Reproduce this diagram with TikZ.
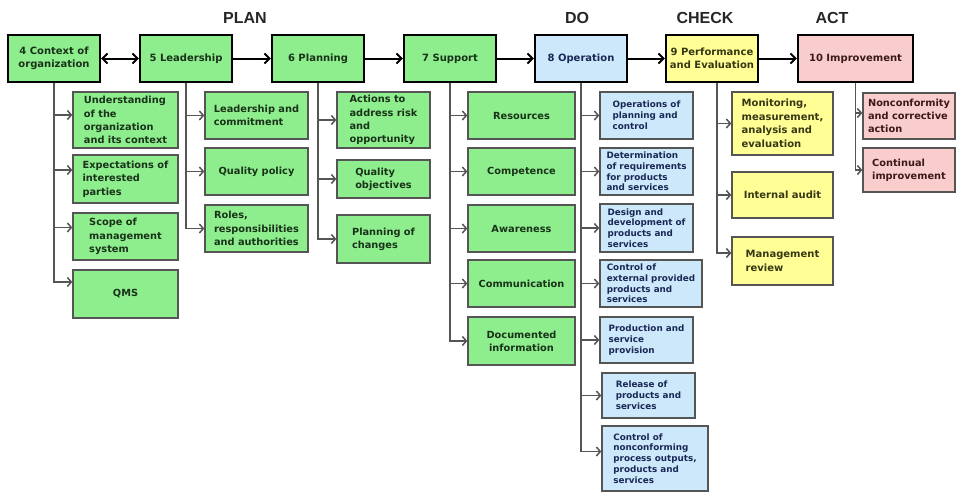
\documentclass[tikz,border=0pt]{standalone}
\usepackage{fontspec}
\setmainfont{DejaVu Sans}
\newfontfamily\headfont{Liberation Sans}
\usetikzlibrary{arrows.meta}
\definecolor{gfill}{RGB}{142,238,142}
\definecolor{bfill}{RGB}{205,232,250}
\definecolor{yfill}{RGB}{255,255,150}
\definecolor{pfill}{RGB}{250,205,205}
\definecolor{subline}{RGB}{85,85,85}
\definecolor{gtext}{RGB}{25,50,25}
\definecolor{btext}{RGB}{25,40,85}
\definecolor{ytext}{RGB}{55,55,20}
\definecolor{ptext}{RGB}{60,25,25}
\begin{document}
\begin{tikzpicture}[x=1pt,y=-1pt,
  topbox/.style={draw=black, line width=2.2pt, minimum height=47pt, minimum width=92pt,
    align=center, inner sep=2pt, font=\bfseries\fontsize{10}{12.5}\selectfont},
  subbox/.style={draw=subline, line width=1.3pt, align=left, inner sep=2pt},
  gsub/.style={subbox, fill=gfill, text=gtext, font=\bfseries\fontsize{9.8}{13.3}\selectfont},
  bsub/.style={subbox, fill=bfill, text=btext, font=\bfseries\fontsize{8.8}{10.8}\selectfont},
  ysub/.style={subbox, fill=yfill, text=ytext, font=\bfseries\fontsize{10}{13.5}\selectfont},
  psub/.style={subbox, fill=pfill, text=ptext, font=\bfseries\fontsize{9.8}{13.3}\selectfont},
  toparr/.style={line width=2pt, black, arrows={-Straight Barb[length=5pt,width=10pt]}},
  br/.style={line width=1.5pt, subline, arrows={-Straight Barb[length=4pt,width=9pt]}},
  phase/.style={font=\headfont\bfseries\fontsize{16}{18}\selectfont, text=black!85}
]
\useasboundingbox (0,0) rectangle (956,493);
\fill[white] (0,0) rectangle (956,493);

% phase labels
\node[phase] (lplan) at (245,18) {PLAN};
\node[phase] (ldo) at (577,18) {DO};
\node[phase] (lcheck) at (705,18) {CHECK};
\node[phase] (lact) at (832,18) {ACT};

% top row
\node[topbox, fill=gfill, text=gtext] (t4) at (54,58.5) {4 Context of\\organization};
\node[topbox, fill=gfill, text=gtext] (t5) at (186,58.5) {5 Leadership};
\node[topbox, fill=gfill, text=gtext] (t6) at (318,58.5) {6 Planning};
\node[topbox, fill=gfill, text=gtext] (t7) at (450,58.5) {7 Support};
\node[topbox, fill=bfill, text=btext] (t8) at (581,58.5) {8 Operation};
\node[topbox, fill=yfill, text=ytext] (t9) at (712,58.5) {9 Performance\\and Evaluation};
\node[topbox, fill=pfill, text=ptext, minimum width=115pt] (t10) at (855.5,58.5) {10 Improvement};

\draw[toparr, arrows={Straight Barb[length=5pt,width=10pt]-Straight Barb[length=5pt,width=10pt]}] (t4) -- (t5);
\draw[toparr] (t5) -- (t6);
\draw[toparr] (t6) -- (t7);
\draw[toparr] (t7) -- (t8);
\draw[toparr] (t8) -- (t9);
\draw[toparr] (t9) -- (t10);

% column 1
\node[gsub, minimum width=105pt, minimum height=56pt] (s1a) at (125.5,120) {Understanding\\of the\\organization\\and its context};
\node[gsub, minimum width=105pt, minimum height=48pt] (s1b) at (125.5,179) {Expectations of\\interested\\parties};
\node[gsub, minimum width=105pt, minimum height=47pt] (s1c) at (125.5,236.5) {Scope of\\management\\system};
\node[gsub, minimum width=105pt, minimum height=48pt] (s1d) at (125.5,294) {QMS};
\draw[br] (t4.south) |- ([yshift=5pt]s1a.west);
\draw[br] (t4.south) |- ([yshift=9pt]s1b.west);
\draw[br] (t4.south) |- ([yshift=9pt]s1c.west);
\draw[br] (t4.south) |- ([yshift=12pt]s1d.west);

% column 2
\node[gsub, minimum width=103pt, minimum height=47pt] (s2a) at (256.5,115.5) {Leadership and\\commitment};
\node[gsub, minimum width=103pt, minimum height=47pt] (s2b) at (256.5,171.5) {Quality policy};
\node[gsub, minimum width=103pt, minimum height=47pt] (s2c) at (256.5,228.5) {Roles,\\responsibilities\\and authorities};
\draw[br] (t5.south) |- (s2a.west);
\draw[br] (t5.south) |- (s2b.west);
\draw[br] (t5.south) |- (s2c.west);

% column 3
\node[gsub, minimum width=93pt, minimum height=56pt] (s3a) at (383.5,120) {Actions to\\address risk\\and\\opportunity};
\node[gsub, minimum width=93pt, minimum height=38pt] (s3b) at (383.5,179) {Quality\\objectives};
\node[gsub, minimum width=93pt, minimum height=48pt] (s3c) at (383.5,239) {Planning of\\changes};
\draw[br] (t6.south) |- (s3a.west);
\draw[br] (t6.south) |- (s3b.west);
\draw[br] (t6.south) |- (s3c.west);

% column 4
\node[gsub, align=center, minimum width=107pt, minimum height=47pt] (s4a) at (521.5,115.5) {Resources};
\node[gsub, align=center, minimum width=107pt, minimum height=47pt] (s4b) at (521.5,171.5) {Competence};
\node[gsub, align=center, minimum width=107pt, minimum height=47pt] (s4c) at (521.5,228.5) {Awareness};
\node[gsub, align=center, minimum width=107pt, minimum height=47pt] (s4d) at (521.5,283.5) {Communication};
\node[gsub, align=center, minimum width=107pt, minimum height=48pt] (s4e) at (521.5,341) {Documented\\information};
\draw[br] (t7.south) |- (s4a.west);
\draw[br] (t7.south) |- (s4b.west);
\draw[br] (t7.south) |- (s4c.west);
\draw[br] (t7.south) |- (s4d.west);
\draw[br] (t7.south) |- (s4e.west);

% column 5
\node[bsub, minimum width=93pt, minimum height=47pt] (s5a) at (646.5,115.5) {Operations of\\planning and\\control};
\node[bsub, minimum width=93pt, minimum height=47pt] (s5b) at (646.5,171.5) {Determination\\of requirements\\for products\\and services};
\node[bsub, minimum width=93pt, minimum height=48pt] (s5c) at (646.5,228) {Design and\\development of\\products and\\services};
\node[bsub, minimum width=102pt, minimum height=47pt] (s5d) at (651,283.5) {Control of\\external provided\\products and\\services};
\node[bsub, minimum width=93pt, minimum height=46pt] (s5e) at (646.5,340) {Production and\\service\\provision};
\node[bsub, minimum width=93pt, minimum height=45pt] (s5f) at (648.5,395.5) {Release of\\products and\\services};
\node[bsub, minimum width=106pt, minimum height=65pt] (s5g) at (655,458.5) {Control of\\nonconforming\\process outputs,\\products and\\services};
\draw[br] (t8.south) |- (s5a.west);
\draw[br] (t8.south) |- (s5b.west);
\draw[br] (t8.south) |- (s5c.west);
\draw[br] (t8.south) |- (s5d.west);
\draw[br] (t8.south) |- (s5e.west);
\draw[br] (t8.south) |- (s5f.west);
\draw[br] (t8.south) |- ([yshift=7pt]s5g.west);

% column 6
\node[ysub, minimum width=101pt, minimum height=63pt] (s6a) at (782.5,123.5) {Monitoring,\\measurement,\\analysis and\\evaluation};
\node[ysub, minimum width=101pt, minimum height=46pt] (s6b) at (782.5,195) {Internal audit};
\node[ysub, minimum width=101pt, minimum height=48pt] (s6c) at (782.5,261) {Management\\review};
\draw[br] ([xshift=5pt]t9.south) |- (s6a.west);
\draw[br] ([xshift=5pt]t9.south) |- (s6b.west);
\draw[br] ([xshift=5pt]t9.south) |- ([yshift=8pt]s6c.west);

% column 7
\node[psub, minimum width=92pt, minimum height=46pt] (s7a) at (909,116) {Nonconformity\\and corrective\\action};
\node[psub, minimum width=92pt, minimum height=44pt] (s7b) at (909,170) {Continual\\improvement};
\draw[br] (t10.south) |- ([yshift=3pt]s7a.west);
\draw[br] (t10.south) |- (s7b.west);
\end{tikzpicture}
\end{document}
